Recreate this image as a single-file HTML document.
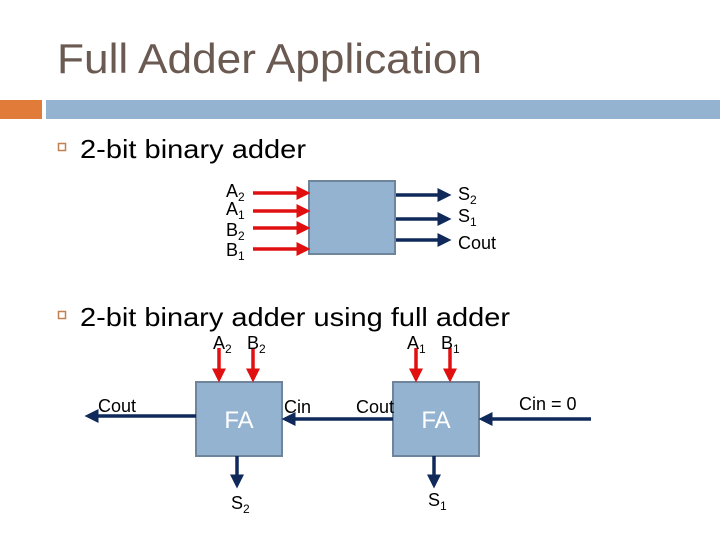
<!DOCTYPE html>
<html><head><style>
html,body{margin:0;padding:0;background:#fff;}
svg{display:block;font-family:"Liberation Sans",Arial,sans-serif;}
</style></head><body>
<svg width="720" height="540" viewBox="0 0 720 540" xmlns="http://www.w3.org/2000/svg">
<defs>
<marker id="r" markerWidth="4" markerHeight="4" refX="3" refY="2" orient="auto" markerUnits="strokeWidth"><path d="M0,0 L4,2 L0,4 Z" fill="#e01010"/></marker>
<marker id="b" markerWidth="4" markerHeight="4" refX="3" refY="2" orient="auto" markerUnits="strokeWidth"><path d="M0,0 L4,2 L0,4 Z" fill="#0f2a5a"/></marker>
</defs>
<text x="57" y="73" font-size="42" fill="#6a5a52" textLength="425" lengthAdjust="spacingAndGlyphs">Full Adder Application</text>
<rect x="0" y="100" width="42" height="19" fill="#e07b39"/>
<rect x="46" y="100" width="674" height="19" fill="#93b3d1"/>

<rect x="58.5" y="143.5" width="7" height="7" fill="none" stroke="#c0804f" stroke-width="1.5"/>
<text x="80" y="158" font-size="26" fill="#000" textLength="226" lengthAdjust="spacingAndGlyphs">2-bit binary adder</text>
<rect x="58.5" y="311.5" width="7" height="7" fill="none" stroke="#c0804f" stroke-width="1.5"/>
<text x="80" y="326" font-size="26" fill="#000" textLength="430" lengthAdjust="spacingAndGlyphs">2-bit binary adder using full adder</text>

<!-- top block -->
<rect x="309" y="181" width="86" height="73" fill="#93b3d1" stroke="#6f859b" stroke-width="2"/>
<g stroke="#e01010" stroke-width="3.5">
<line x1="253" y1="193" x2="307" y2="193" marker-end="url(#r)"/>
<line x1="253" y1="211" x2="307" y2="211" marker-end="url(#r)"/>
<line x1="253" y1="228" x2="307" y2="228" marker-end="url(#r)"/>
<line x1="253" y1="249" x2="307" y2="249" marker-end="url(#r)"/>
</g>
<g stroke="#0f2a5a" stroke-width="3.5">
<line x1="396" y1="195" x2="448" y2="195" marker-end="url(#b)"/>
<line x1="396" y1="219" x2="448" y2="219" marker-end="url(#b)"/>
<line x1="396" y1="240" x2="448" y2="240" marker-end="url(#b)"/>
</g>
<g font-size="18" fill="#000">
<text x="226" y="197">A<tspan font-size="12" dy="4">2</tspan></text>
<text x="226" y="215">A<tspan font-size="12" dy="4">1</tspan></text>
<text x="226" y="236">B<tspan font-size="12" dy="4">2</tspan></text>
<text x="226" y="256">B<tspan font-size="12" dy="4">1</tspan></text>
<text x="458" y="200">S<tspan font-size="12" dy="4">2</tspan></text>
<text x="458" y="222">S<tspan font-size="12" dy="4">1</tspan></text>
<text x="458" y="249">Cout</text>
</g>

<!-- bottom -->
<rect x="196" y="382" width="86" height="74" fill="#93b3d1" stroke="#6f859b" stroke-width="2"/>
<rect x="393" y="382" width="86" height="74" fill="#93b3d1" stroke="#6f859b" stroke-width="2"/>
<text x="239" y="428" font-size="24" fill="#fff" text-anchor="middle">FA</text>
<text x="436" y="428" font-size="24" fill="#fff" text-anchor="middle">FA</text>
<g stroke="#e01010" stroke-width="3.5">
<line x1="219" y1="348" x2="219" y2="379" marker-end="url(#r)"/>
<line x1="253" y1="348" x2="253" y2="379" marker-end="url(#r)"/>
<line x1="416" y1="348" x2="416" y2="379" marker-end="url(#r)"/>
<line x1="450" y1="348" x2="450" y2="379" marker-end="url(#r)"/>
</g>
<g stroke="#0f2a5a" stroke-width="3.5">
<line x1="196" y1="416" x2="88" y2="416" marker-end="url(#b)"/>
<line x1="393" y1="419" x2="285" y2="419" marker-end="url(#b)"/>
<line x1="591" y1="419" x2="482" y2="419" marker-end="url(#b)"/>
<line x1="237" y1="456" x2="237" y2="485" marker-end="url(#b)"/>
<line x1="434" y1="456" x2="434" y2="485" marker-end="url(#b)"/>
</g>
<g font-size="18" fill="#000">
<text x="213" y="349">A<tspan font-size="12" dy="4">2</tspan></text>
<text x="247" y="349">B<tspan font-size="12" dy="4">2</tspan></text>
<text x="407" y="349">A<tspan font-size="12" dy="4">1</tspan></text>
<text x="441" y="349">B<tspan font-size="12" dy="4">1</tspan></text>
<text x="98" y="412">Cout</text>
<text x="284" y="413">Cin</text>
<text x="356" y="413">Cout</text>
<text x="519" y="410">Cin = 0</text>
<text x="231" y="509">S<tspan font-size="12" dy="4">2</tspan></text>
<text x="428" y="506">S<tspan font-size="12" dy="4">1</tspan></text>
</g>
</svg>
</body></html>
